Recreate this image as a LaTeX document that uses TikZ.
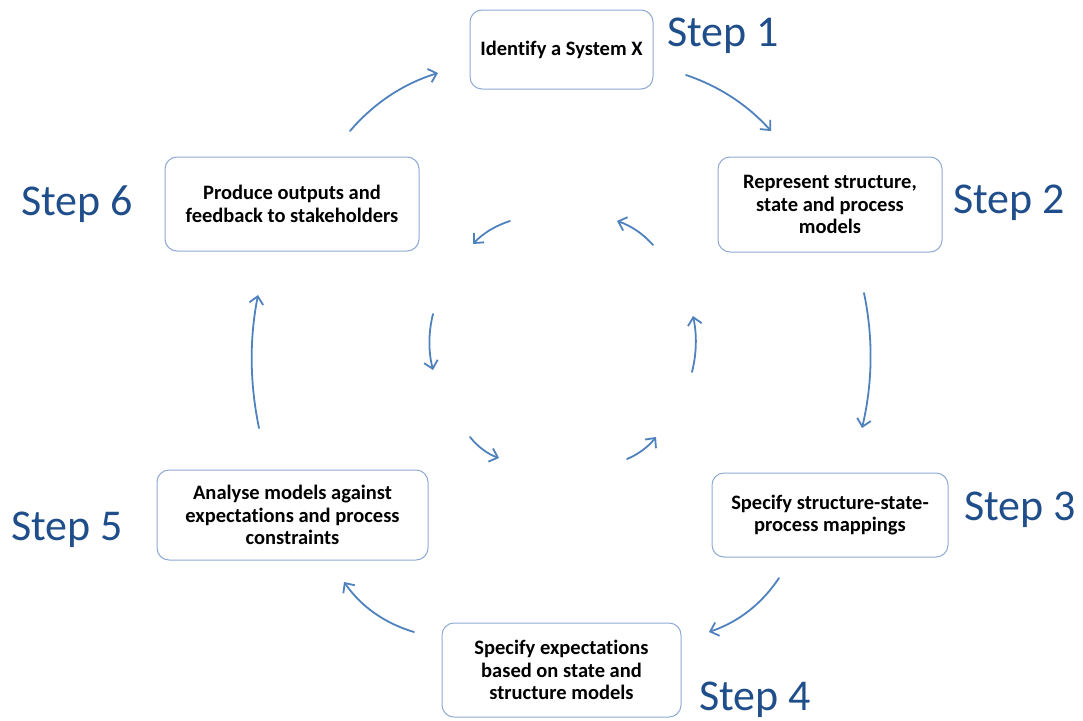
\documentclass[tikz,border=0pt]{standalone}
\usepackage{fontspec}
\setmainfont{Carlito}[Ligatures=NoCommon]
\usetikzlibrary{arrows.meta}
\definecolor{boxline}{HTML}{8EA9D4}
\definecolor{flow}{HTML}{4F81BD}
\definecolor{steptext}{HTML}{1F4E8A}
\tikzset{
  stage/.style={draw=boxline, line width=1pt, rounded corners=12pt, fill=white,
    align=center, inner sep=0pt, font=\bfseries\fontsize{20.5}{22.5}\selectfont},
  steplabel/.style={text=steptext, inner sep=0pt, font=\fontsize{44}{50}\selectfont},
  flowarrow/.style={draw=flow, line width=1.8pt, line cap=round,
    -{Straight Barb[length=7.5pt,width=14pt,line width=1.8pt]}}
}
\begin{document}
\begin{tikzpicture}[x=1pt,y=-1pt]
\useasboundingbox (0,0) rectangle (1083,720);

% process stages
\node[stage, minimum width=183pt, minimum height=79pt] (s1) at (561.5,49.5) {Identify a System X};
\node[stage, minimum width=224pt, minimum height=95pt] (s2) at (830,204.5) {Represent structure,\\state and process\\models};
\node[stage, minimum width=236pt, minimum height=84pt] (s3) at (830,515) {Specify structure-state-\\process mappings};
\node[stage, minimum width=239pt, minimum height=94pt] (s4) at (561.5,670) {Specify expectations\\based on state and\\structure models};
\node[stage, minimum width=271pt, minimum height=90pt] (s5) at (292.5,515) {Analyse models against\\expectations and process\\constraints};
\node[stage, minimum width=254pt, minimum height=94pt] (s6) at (292,204) {Produce outputs and\\feedback to stakeholders};

% step captions
\node[steplabel] (l1) at (723,36) {Step 1};
\node[steplabel] (l2) at (1009,203) {Step 2};
\node[steplabel] (l3) at (1020,510) {Step 3};
\node[steplabel] (l4) at (755,700) {Step 4};
\node[steplabel] (l5) at (67,530) {Step 5};
\node[steplabel] (l6) at (77,204) {Step 6};

% outer cycle end points
\coordinate (a1s) at (686,75);  \coordinate (a1e) at (771,131);
\coordinate (a2s) at (864,293); \coordinate (a2e) at (862,428);
\coordinate (a3s) at (779,578); \coordinate (a3e) at (709,632);
\coordinate (a4s) at (414,632); \coordinate (a4e) at (344,582);
\coordinate (a5s) at (259,428); \coordinate (a5e) at (258,295);
\coordinate (a6s) at (350,131); \coordinate (a6e) at (438,73);

\draw[flowarrow] (a1s) .. controls (719.3,86.3) and (747.7,105) .. (a1e);
\draw[flowarrow] (a2s) .. controls (873.3,337.7) and (872.7,382.7) .. (a2e);
\draw[flowarrow] (a3s) .. controls (761.7,604) and (738.3,622) .. (a3e);
\draw[flowarrow] (a4s) .. controls (384.7,623.3) and (361.3,606.7) .. (a4e);
\draw[flowarrow] (a5s) .. controls (249.7,383.3) and (249.3,339) .. (a5e);
\draw[flowarrow] (a6s) .. controls (374,103) and (403.3,83.7) .. (a6e);

% inner cycle end points
\coordinate (i1s) at (510,221); \coordinate (i1e) at (473,244);
\coordinate (i2s) at (653,245); \coordinate (i2e) at (617,221);
\coordinate (i3s) at (433,314); \coordinate (i3e) at (433,370);
\coordinate (i4s) at (470,437); \coordinate (i4e) at (499,458);
\coordinate (i5s) at (627,459); \coordinate (i5e) at (656,437);
\coordinate (i6s) at (692,372); \coordinate (i6e) at (693,316);

\draw[flowarrow] (i1s) .. controls (495.3,225.7) and (483,233.3) .. (i1e);
\draw[flowarrow] (i2s) .. controls (643,233.7) and (631,225.7) .. (i2e);
\draw[flowarrow] (i3s) .. controls (428.3,332.7) and (428.3,351.3) .. (i3e);
\draw[flowarrow] (i4s) .. controls (478,447) and (487.7,454) .. (i4e);
\draw[flowarrow] (i5s) .. controls (638.3,454.3) and (648,447) .. (i5e);
\draw[flowarrow] (i6s) .. controls (696.7,353.3) and (697,334.7) .. (i6e);
\end{tikzpicture}
\end{document}
